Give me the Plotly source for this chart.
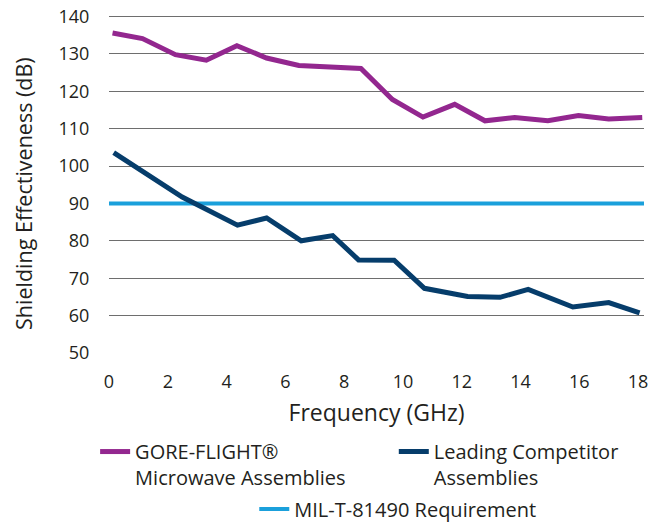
import plotly.graph_objects as go

# Data
gore_freq = [0.12, 1.14, 2.26, 3.31, 4.35, 5.36, 6.46, 7.5, 8.57, 9.64, 10.68,
             11.76, 12.79, 13.8, 14.93, 15.97, 17.0, 18.14]
gore_se = [135.6, 134.1, 129.8, 128.3, 132.2, 128.9, 126.9, 126.5, 126.1, 117.8,
           113.1, 116.5, 112.1, 113.0, 112.1, 113.5, 112.6, 113.0]

comp_freq = [0.16, 2.49, 4.37, 5.36, 6.54, 7.61, 8.49, 9.70, 10.73, 12.2, 13.3,
             14.26, 15.78, 17.0, 18.05]
comp_se = [103.6, 91.7, 84.2, 86.1, 80.0, 81.4, 74.9, 74.8, 67.3, 65.1, 64.9,
           67.0, 62.3, 63.5, 60.7]

mil_freq = [0, 18.2]
mil_se = [90, 90]

names = ["GORE-FLIGHT®<br>Microwave Assemblies",
         "Leading Competitor<br>Assemblies",
         "MIL-T-81490 Requirement"]
colors = ["#93278F", "#063D6B", "#1BA0DB"]

x_ticks = list(range(0, 19, 2))
y_ticks = list(range(50, 141, 10))

FONT = "Open Sans"
TXT = "#231F20"

fig = go.Figure()
fig.add_trace(go.Scatter(x=mil_freq, y=mil_se, mode="lines", name=names[2],
                         line=dict(color=colors[2], width=4), legend="legend3"))
fig.add_trace(go.Scatter(x=comp_freq, y=comp_se, mode="lines", name=names[1],
                         line=dict(color=colors[1], width=5), legend="legend2"))
fig.add_trace(go.Scatter(x=gore_freq, y=gore_se, mode="lines", name=names[0],
                         line=dict(color=colors[0], width=5), legend="legend"))

leg_common = dict(orientation="v", xanchor="left", yanchor="top",
                  xref="container", yref="container",
                  font=dict(family=FONT, size=20, color=TXT),
                  bgcolor="rgba(0,0,0,0)", valign="top", itemwidth=30)

fig.update_layout(
    width=655, height=514,
    margin=dict(l=101, r=19, t=7, b=169, autoexpand=False),
    plot_bgcolor="white", paper_bgcolor="white",
    font=dict(family=FONT, color=TXT),
    showlegend=True,
    legend=dict(x=0.133, y=0.175, **leg_common),
    legend2=dict(x=0.589, y=0.175, **leg_common),
    legend3=dict(x=0.376, y=0.063, **leg_common),
    xaxis=dict(range=[0, 18.2], tickvals=x_ticks, ticktext=[str(v) for v in x_ticks],
               showgrid=False, zeroline=False, showline=False,
               ticks="outside", ticklen=12, tickcolor="rgba(0,0,0,0)",
               automargin=True, ticklabeloverflow="allow",
               tickfont=dict(family=FONT, size=18, color=TXT),
               title=dict(text="Frequency (GHz)", font=dict(family=FONT, size=23, color=TXT),
                          standoff=13)),
    yaxis=dict(range=[50, 140.4], tickvals=y_ticks, ticktext=[str(v) for v in y_ticks],
               showgrid=True, gridcolor="#6E6E6E", gridwidth=1.3, zeroline=False,
               showline=False, ticks="outside", ticklen=15, tickcolor="rgba(0,0,0,0)",
               automargin=True, ticklabeloverflow="allow",
               tickfont=dict(family=FONT, size=18, color=TXT)),
    annotations=[dict(text="Shielding Effectiveness (dB)", textangle=-90,
                      xref="paper", yref="paper", x=-0.161, y=0.473,
                      xanchor="center", yanchor="middle", showarrow=False,
                      font=dict(family=FONT, size=21.5, color=TXT))],
)

fig.write_html("out.html")
